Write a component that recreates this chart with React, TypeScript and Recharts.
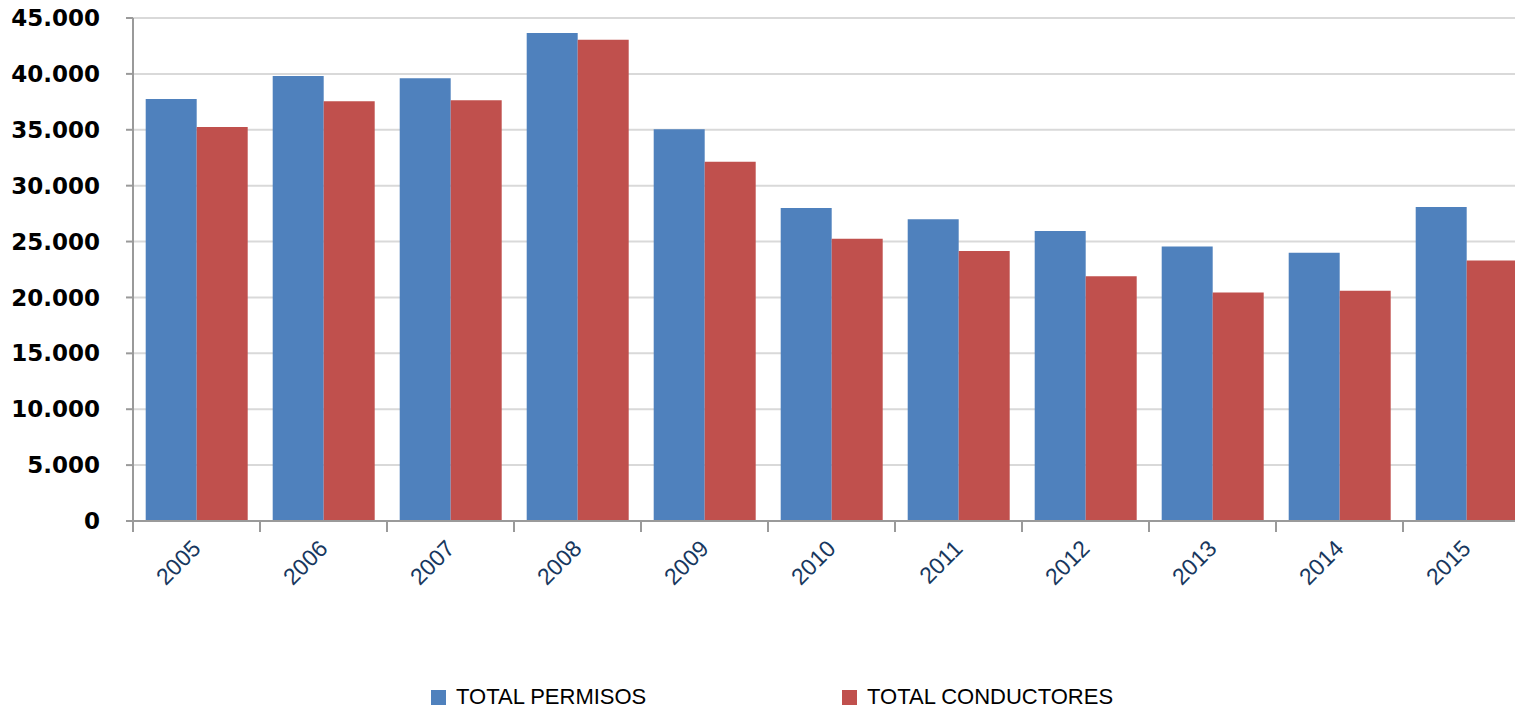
import { BarChart, Bar, XAxis, YAxis, CartesianGrid, Legend } from "recharts";

const years = ["2005", "2006", "2007", "2008", "2009", "2010", "2011", "2012", "2013", "2014", "2015"];
const totalPermisos = [37750, 39800, 39600, 43650, 35050, 28000, 27000, 25950, 24550, 24000, 28100];
const totalConductores = [35250, 37550, 37650, 43050, 32150, 25250, 24150, 21900, 20450, 20600, 23300];
const yTicks = [0, 5000, 10000, 15000, 20000, 25000, 30000, 35000, 40000, 45000];

const seriesNames = ["TOTAL PERMISOS", "TOTAL CONDUCTORES"];

const data = years.map((year, i) => ({
  year,
  permisos: totalPermisos[i],
  conductores: totalConductores[i],
}));

const CHART_W = 1530;
const CHART_H = 712;
const AXIS_W = 133;
const BAND = (CHART_W - AXIS_W) / years.length;
const LABEL_FONT = '"Liberation Sans", Arial, sans-serif';

// 45000 -> "45.000"
function formatThousands(n: number): string {
  return String(n).replace(/\B(?=(\d{3})+(?!\d))/g, ".");
}

function YearTick({ x, y, payload }: any) {
  const bx = x - BAND / 2;
  const tx = x + 5.5;
  const ty = y + 29;
  return (
    <g>
      <line x1={bx} y1={y} x2={bx} y2={y + 11} stroke="#9a9a9a" strokeWidth={2} />
      <text
        x={tx}
        y={ty}
        transform={`rotate(-45 ${tx} ${ty})`}
        textAnchor="end"
        fill="#17375e"
        fontSize={23}
        fontFamily={LABEL_FONT}
      >
        {payload.value}
      </text>
    </g>
  );
}

const legendLeft = [431, 842];

function ChartLegend({ payload }: any) {
  // keep series order (recharts may hand the payload over reversed)
  const items = seriesNames
    .map((name) => (payload || []).find((p: any) => p.value === name))
    .filter(Boolean);
  return (
    <div style={{ position: "relative", width: CHART_W, height: 50 }}>
      {items.map((entry: any, i: number) => (
        <div
          key={entry.value}
          style={{
            position: "absolute",
            left: legendLeft[i],
            top: 22,
            display: "flex",
            alignItems: "center",
            fontFamily: LABEL_FONT,
            fontSize: 22,
            color: "#000",
            whiteSpace: "nowrap",
          }}
        >
          <span
            style={{
              display: "inline-block",
              width: 15,
              height: 15,
              background: entry.color,
              marginRight: 10,
            }}
          />
          {entry.value}
        </div>
      ))}
    </div>
  );
}

export default function App() {
  return (
    <div
      style={{
        position: "absolute",
        left: 0,
        top: 0,
        width: 1515,
        height: CHART_H,
        overflow: "hidden",
        background: "#fff",
      }}
    >
      <BarChart
        width={CHART_W}
        height={CHART_H}
        data={data}
        margin={{ top: 18, right: 0, left: 0, bottom: 0 }}
        barCategoryGap="10%"
        barGap={0}
      >
        <CartesianGrid vertical={false} stroke="#d9d9d9" strokeWidth={2} />
        <XAxis
          dataKey="year"
          height={141}
          interval={0}
          axisLine={{ stroke: "#9a9a9a", strokeWidth: 2 }}
          tickLine={false}
          tickSize={0}
          tickMargin={0}
          tick={<YearTick />}
        />
        <YAxis
          width={AXIS_W}
          domain={[0, 45000]}
          ticks={yTicks}
          interval={0}
          tickFormatter={formatThousands}
          axisLine={{ stroke: "#9a9a9a", strokeWidth: 2 }}
          tickLine={{ stroke: "#9a9a9a", strokeWidth: 2 }}
          tickSize={7}
          tickMargin={26}
          tick={{
            fill: "#000",
            fontSize: 23,
            fontWeight: 700,
            fontFamily: '"DejaVu Sans", Verdana, sans-serif',
          }}
        />
        <Legend
          verticalAlign="bottom"
          height={50}
          wrapperStyle={{ left: 0, width: CHART_W }}
          content={<ChartLegend />}
        />
        <Bar dataKey="permisos" name={seriesNames[0]} fill="#4f81bd" isAnimationActive={false} />
        <Bar dataKey="conductores" name={seriesNames[1]} fill="#c0504d" isAnimationActive={false} />
      </BarChart>
    </div>
  );
}
